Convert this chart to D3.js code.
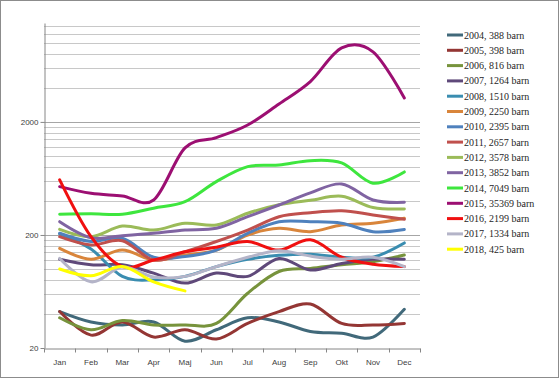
<!DOCTYPE html>
<html>
<head>
<meta charset="utf-8">
<script src="https://cdn.jsdelivr.net/npm/d3@7"></script>
<style>
  body { margin: 0; background: #fff; }
  svg { display: block; }
</style>
</head>
<body>
<svg id="chart" width="559" height="378"></svg>
<script>
// monthly counts per year, log scale chart
var months = ['Jan','Feb','Mar','Apr','Maj','Jun','Jul','Aug','Sep','Okt','Nov','Dec'];
var years = [2004, 2005, 2006, 2007, 2008, 2009, 2010, 2011, 2012, 2013, 2014, 2015, 2016, 2017, 2018];
var totals = [388, 398, 816, 1264, 1510, 2250, 2395, 2657, 3578, 3852, 7049, 35369, 2199, 1334, 425];
var yTicks = [20, 200, 2000];

var v2004 = [42, 34, 32, 34, 23, 29, 37, 34, 28, 27, 25, 44];
var v2005 = [42, 26, 34, 25, 29, 24, 33, 42, 49, 33, 32, 33];
var v2006 = [37, 29, 35, 32, 32, 33, 61, 95, 101, 109, 116, 133];
var v2007 = [122, 109, 109, 92, 75, 92, 86, 124, 98, 112, 122, 122];
var v2008 = [205, 150, 86, 80, 86, 105, 122, 132, 135, 127, 127, 170];
var v2009 = [152, 122, 147, 120, 133, 147, 200, 229, 214, 245, 254, 281];
var v2010 = [207, 175, 187, 127, 129, 147, 207, 262, 262, 254, 214, 224];
var v2011 = [193, 163, 178, 120, 142, 175, 221, 290, 315, 328, 301, 275];
var v2012 = [224, 193, 240, 221, 254, 245, 311, 370, 405, 440, 350, 340];
var v2013 = [262, 189, 197, 207, 221, 229, 290, 368, 471, 565, 408, 389];
var v2014 = [305, 308, 305, 345, 394, 593, 804, 832, 909, 867, 574, 722];
var v2015 = [535, 467, 443, 408, 1178, 1452, 1880, 2885, 4550, 9030, 8340, 3260];
var v2016 = [614, 193, 105, 120, 142, 156, 175, 147, 181, 127, 110, 105];
var v2017 = [124, 77, 104, 85, 86, 105, 127, 145, 130, 122, 127, 105];
var v2018 = [100, 87, 105, 77, 64];

var values = [v2004, v2005, v2006, v2007, v2008, v2009, v2010, v2011, v2012, v2013, v2014, v2015, v2016, v2017, v2018];
var colors = ['#41697a','#943634','#77933c','#5f497a','#3a8db0','#d9853b','#4f81bd','#c0504d',
              '#9bbb59','#8064a2','#3ee63e','#9c0f72','#f01010','#b4b4c8','#ffff00'];

var svg = d3.select("#chart");

// outer frame
svg.append("rect")
  .attr("x", 0.5).attr("y", 0.5)
  .attr("width", 558).attr("height", 377)
  .attr("fill", "#fff")
  .attr("stroke", "#8c8c8c");

var plot = {l: 44, r: 420, t: 23, b: 348};

var x = d3.scaleBand().domain(months).range([plot.l, plot.r]);
var y = d3.scaleLog().domain([20, 15000]).range([plot.b, plot.t]);

// minor gridlines at 20*k, 200*k, 2000*k
var grid = [];
[20, 200, 2000].forEach(function(base){
  for (var k = 2; k <= 10; k++) {
    var g = base * k;
    if (g < 15000) grid.push(g);
  }
});

svg.append("g").selectAll("line").data(grid).enter().append("line")
  .attr("x1", plot.l).attr("x2", plot.r)
  .attr("y1", function(d){ return Math.round(y(d)) + 0.5; })
  .attr("y2", function(d){ return Math.round(y(d)) + 0.5; })
  .attr("stroke", function(d){ return yTicks.indexOf(d) >= 0 ? "#a6a6a6" : "#c8c8c8"; })
  .attr("stroke-width", 1);

// y axis
var yAxis = svg.append("g")
  .attr("transform", "translate(" + (plot.l + 0.5) + ",0)")
  .call(d3.axisLeft(y).tickValues(yTicks).tickFormat(d3.format("d")).tickSize(4).tickSizeOuter(0));
yAxis.select(".domain").attr("stroke", "#868686");
yAxis.selectAll(".tick line").attr("stroke", "#868686");
yAxis.selectAll("text")
  .attr("font-family", "Liberation Sans, Arial, sans-serif")
  .attr("font-size", "8px")
  .attr("fill", "#404040")
  .attr("x", -6);

// x axis
var xAxis = svg.append("g")
  .attr("transform", "translate(0," + (plot.b + 0.5) + ")")
  .call(d3.axisBottom(x).tickSize(0).tickPadding(11));
xAxis.select(".domain").attr("stroke", "#868686");
xAxis.selectAll("text")
  .attr("font-family", "Liberation Sans, Arial, sans-serif")
  .attr("font-size", "8px")
  .attr("fill", "#404040");
// tick marks between categories
xAxis.append("g").selectAll("line").data(d3.range(months.length + 1)).enter().append("line")
  .attr("x1", function(i){ return Math.round(plot.l + i * x.step()) + 0.5; })
  .attr("x2", function(i){ return Math.round(plot.l + i * x.step()) + 0.5; })
  .attr("y1", 0).attr("y2", 4)
  .attr("stroke", "#868686");

// series lines
var line = d3.line()
  .x(function(d, i){ return x(months[i]) + x.bandwidth() / 2; })
  .y(function(d){ return y(d); })
  .curve(d3.curveCardinal.tension(0));

svg.append("g").selectAll("path").data(values).enter().append("path")
  .attr("d", line)
  .attr("fill", "none")
  .attr("stroke", function(d, i){ return colors[i]; })
  .attr("stroke-width", 3)
  .attr("stroke-linejoin", "round")
  .attr("stroke-linecap", "round");

// legend
var legend = svg.append("g").attr("transform", "translate(447,35)");
var items = legend.selectAll("g").data(years).enter().append("g")
  .attr("transform", function(d, i){ return "translate(0," + (i * 15.3) + ")"; });
items.append("line")
  .attr("x1", 0).attr("x2", 16)
  .attr("y1", 0).attr("y2", 0)
  .attr("stroke", function(d, i){ return colors[i]; })
  .attr("stroke-width", 3);
items.append("text")
  .attr("x", 17).attr("y", 3.5)
  .attr("font-family", "Liberation Serif, Times New Roman, serif")
  .attr("font-size", "10px")
  .attr("fill", "#262626")
  .text(function(d, i){ return d + ", " + totals[i] + " barn"; });
</script>
</body>
</html>
